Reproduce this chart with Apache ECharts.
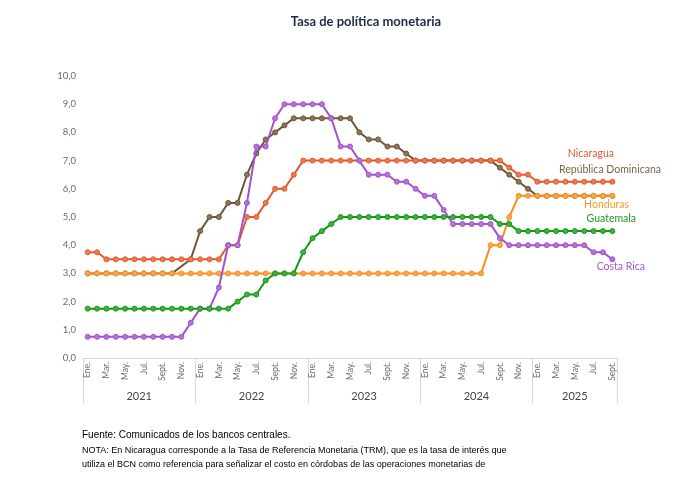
<!DOCTYPE html>
<html>
<head>
<meta charset="utf-8">
<script src="https://cdn.jsdelivr.net/npm/echarts@6/dist/echarts.min.js"></script>
<style>html,body{margin:0;padding:0;background:#fff}#c{width:682px;height:498px}</style>
</head>
<body>
<div id="c"></div>
<script>
const monthNames = ['Ene.','Feb.','Mar.','Abr.','May.','Jun.','Jul.','Ago.','Sept.','Oct.','Nov.','Dic.'];
const years = ['2021','2022','2023','2024','2025'];
const yearMonths = [12,12,12,12,9];
const yTicks = [0,1,2,3,4,5,6,7,8,9,10];

const nicaragua = [3.75,3.75,3.5,3.5,3.5,3.5,3.5,3.5,3.5,3.5,3.5,3.5,
  3.5,3.5,3.5,4.0,4.0,5.0,5.0,5.5,6.0,6.0,6.5,7.0,
  7,7,7,7,7,7,7,7,7,7,7,7,
  7,7,7,7,7,7,7,7,7,6.75,6.5,6.5,
  6.25,6.25,6.25,6.25,6.25,6.25,6.25,6.25,6.25];
const republicaDominicana = [3,3,3,3,3,3,3,3,3,3,null,3.5,
  4.5,5.0,5.0,5.5,5.5,6.5,7.25,7.75,8.0,8.25,8.5,8.5,
  8.5,8.5,8.5,8.5,8.5,8.0,7.75,7.75,7.5,7.5,7.25,7.0,
  7,7,7,7,7,7,7,7,6.75,6.5,6.25,6.0,
  5.75,5.75,5.75,5.75,5.75,5.75,5.75,5.75,5.75];
const honduras = [3,3,3,3,3,3,3,3,3,3,3,3,
  3,3,3,3,3,3,3,3,3,3,3,3,
  3,3,3,3,3,3,3,3,3,3,3,3,
  3,3,3,3,3,3,3,4.0,4.0,5.0,5.75,5.75,
  5.75,5.75,5.75,5.75,5.75,5.75,5.75,5.75,5.75];
const guatemala = [1.75,1.75,1.75,1.75,1.75,1.75,1.75,1.75,1.75,1.75,1.75,1.75,
  1.75,1.75,1.75,1.75,2.0,2.25,2.25,2.75,3.0,3.0,3.0,3.75,
  4.25,4.5,4.75,5,5,5,5,5,5,5,5,5,
  5,5,5,5,5,5,5,5,4.75,4.75,4.5,4.5,
  4.5,4.5,4.5,4.5,4.5,4.5,4.5,4.5,4.5];
const costaRica = [0.75,0.75,0.75,0.75,0.75,0.75,0.75,0.75,0.75,0.75,0.75,1.25,
  1.75,1.75,2.5,4.0,4.0,5.5,7.5,7.5,8.5,9.0,9.0,9.0,
  9.0,9.0,8.5,7.5,7.5,7.0,6.5,6.5,6.5,6.25,6.25,6.0,
  5.75,5.75,5.25,4.75,4.75,4.75,4.75,4.75,4.25,4.0,4.0,4.0,
  4.0,4.0,4.0,4.0,4.0,4.0,3.75,3.75,3.5];

const categories = [];
years.forEach((y, yi) => { for (let m = 0; m < yearMonths[yi]; m++) categories.push(monthNames[m] + ' ' + y); });
const total = categories.length;
const yearBounds = [0];
yearMonths.forEach(n => yearBounds.push(yearBounds[yearBounds.length - 1] + n));
const yearCenters = years.map((y, i) => (yearBounds[i] + yearBounds[i + 1]) / 2);

const colors = {
  nic: '#E2582D', rd: '#6F5636', hon: '#F68F1E', gua: '#17971A', cr: '#A352C9'
};
function mk(name, data, line, fill, z) {
  return {
    name, type: 'line', data, xAxisIndex: 0, connectNulls: true, z,
    symbol: 'circle', symbolSize: 5,
    lineStyle: { color: line, width: 2 },
    itemStyle: { color: fill, borderColor: line, borderWidth: 1 },
    emphasis: { disabled: true }
  };
}

const chart = echarts.init(document.getElementById('c'));
const font = 'Lato, "Noto Sans", sans-serif';
chart.setOption({
  animation: false,
  title: {
    text: 'Tasa de política monetaria', left: 361, top: 10, textAlign: 'center',
    textStyle: { fontSize: 13, fontWeight: 'bold', color: '#1E2B47', fontFamily: font }
  },
  grid: { left: 83, right: 65, top: 76, bottom: 140 },
  xAxis: [{
    type: 'category', data: categories, boundaryGap: true,
    axisLine: { lineStyle: { color: '#D9D9D9', width: 1 } },
    axisTick: { show: false },
    axisLabel: {
      interval: 1, rotate: 90, margin: 4, fontSize: 8.5, color: '#6B6B6B', fontFamily: font,
      formatter: v => v.split(' ')[0]
    }
  }, {
    type: 'value', min: 0, max: total, position: 'bottom',
    splitLine: { show: false },
    axisLine: { show: false },
    axisTick: { show: true, customValues: yearBounds, length: 45, lineStyle: { color: '#D9D9D9' } },
    axisLabel: {
      customValues: yearCenters, margin: 33, fontSize: 11, color: '#444', fontFamily: font,
      formatter: v => { const i = yearCenters.indexOf(v); return i >= 0 ? years[i] : ''; }
    }
  }],
  yAxis: {
    type: 'value', min: 0, max: 10, interval: 1,
    splitLine: { show: false },
    axisLine: { show: false }, axisTick: { show: false },
    axisLabel: { margin: 7, fontSize: 9.5, color: '#6B6B6B', fontFamily: font,
      formatter: v => v.toFixed(1).replace('.', ',') }
  },
  series: [
    mk('República Dominicana', republicaDominicana, colors.rd, '#8C7458', 2),
    mk('Nicaragua', nicaragua, colors.nic, '#EE7A52', 3),
    mk('Honduras', honduras, colors.hon, '#F8A848', 4),
    mk('Costa Rica', costaRica, colors.cr, '#B673D8', 5),
    mk('Guatemala', guatemala, colors.gua, '#3DB23F', 6)
  ],
  graphic: [
    { type: 'text', right: 68, top: 148, style: { text: 'Nicaragua', fill: '#E2582D', font: '10.5px ' + font } },
    { type: 'text', right: 21, top: 164, style: { text: 'República Dominicana', fill: '#7A6548', font: '10.5px ' + font } },
    { type: 'text', right: 53, top: 199, style: { text: 'Honduras', fill: '#F59A2A', font: '10.5px ' + font } },
    { type: 'text', right: 46, top: 213, style: { text: 'Guatemala', fill: '#1E9A1E', font: '10.5px ' + font } },
    { type: 'text', right: 37, top: 261, style: { text: 'Costa Rica', fill: '#A45BCB', font: '10.5px ' + font } },
    { type: 'text', left: 82, top: 430, style: { text: 'Fuente: Comunicados de los bancos centrales.', fill: '#000', font: '10px "Liberation Sans", Arial, sans-serif' } },
    { type: 'text', left: 82, top: 446, style: { text: 'NOTA: En Nicaragua corresponde a la Tasa de Referencia Monetaria (TRM), que es la tasa de interés que', fill: '#000', font: '9px "Liberation Sans", Arial, sans-serif' } },
    { type: 'text', left: 82, top: 460, style: { text: 'utiliza el BCN como referencia para señalizar el costo en córdobas de las operaciones monetarias de', fill: '#000', font: '9px "Liberation Sans", Arial, sans-serif' } }
  ]
});
</script>
</body>
</html>
